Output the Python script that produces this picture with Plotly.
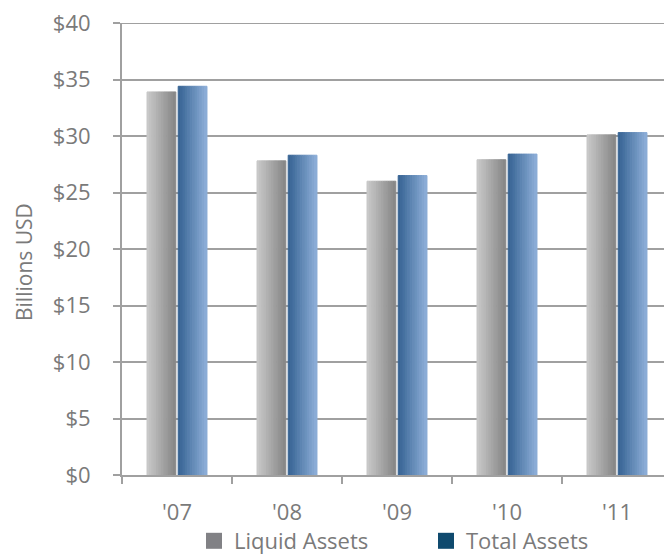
import plotly.graph_objects as go

years = ["'07", "'08", "'09", "'10", "'11"]
liquid_assets = [33.9, 27.8, 26.0, 27.9, 30.1]
total_assets = [34.4, 28.3, 26.5, 28.4, 30.3]
y_ticks = [0, 5, 10, 15, 20, 25, 30, 35, 40]

FONT = "Open Sans"
TXT = "#7a7a7a"
LINE = "#a0a0a0"
N = 12


def lerp(c1, c2, t):
    return "rgb(%d,%d,%d)" % tuple(round(a + (b - a) * t) for a, b in zip(c1, c2))


fig = go.Figure()

# horizontal gradient: each series drawn as N thin adjacent bars
gray_l, gray_r = (200, 200, 200), (136, 136, 136)
blue_l, blue_r = (56, 100, 148), (138, 172, 214)

for i in range(N):
    c = lerp(gray_l, gray_r, i / (N - 1))
    fig.add_trace(go.Bar(x=years, y=liquid_assets, marker_color=c,
                         marker_line=dict(width=1, color=c), showlegend=False, hoverinfo="skip"))
fig.add_trace(go.Bar(x=years, y=liquid_assets, marker_color="rgba(0,0,0,0)",
                     marker_line_width=0, showlegend=False, hoverinfo="skip"))
for i in range(N):
    c = lerp(blue_l, blue_r, i / (N - 1))
    fig.add_trace(go.Bar(x=years, y=total_assets, marker_color=c,
                         marker_line=dict(width=1, color=c), showlegend=False, hoverinfo="skip"))

# legend entries
fig.add_trace(go.Scatter(x=[None], y=[None], mode="markers", name="Liquid Assets",
                         marker=dict(symbol="square", size=18, color="#818185")))
fig.add_trace(go.Scatter(x=[None], y=[None], mode="markers", name="Total Assets",
                         marker=dict(symbol="square", size=18, color="#0f4a6e")))

fig.add_annotation(text="Billions USD", textangle=-90, xref="paper", yref="paper",
                   x=(24 - 122) / 550, y=(475 - 262) / 452, xanchor="center", yanchor="middle",
                   showarrow=False, font=dict(size=21, color=TXT, family=FONT))

# top gridline (plotly skips the grid line lying on the plot edge)
fig.add_shape(type="line", xref="paper", x0=0, x1=1, yref="y", y0=y_ticks[-1], y1=y_ticks[-1],
              line=dict(color=LINE, width=2), layer="below")

# page has an 8px body margin, so the figure is sized to fill the rest of the window
fig.update_layout(
    width=664, height=548,
    margin=dict(l=114, r=0, t=15, b=81, autoexpand=False),
    paper_bgcolor="white", plot_bgcolor="white",
    barmode="group", bargap=0.455, bargroupgap=0,
    font=dict(family=FONT, size=22, color=TXT),
    showlegend=True,
    legend=dict(orientation="h", x=0.5 + 29 / 550, xanchor="center", y=(475 - 541) / 452,
                yanchor="middle", font=dict(size=22, color=TXT), entrywidth=187,
                traceorder="normal"),
)
fig.update_xaxes(
    categoryorder="array", categoryarray=years, automargin=False,
    showline=True, linecolor=LINE, linewidth=2,
    ticks="outside", tickson="boundaries", ticklen=7, tickwidth=2, tickcolor=LINE,
    showgrid=False, ticklabelstandoff=17,
    tickfont=dict(size=22, color=TXT),
)
fig.update_yaxes(
    range=[0, 40], tickvals=y_ticks, ticktext=["$%d" % v for v in y_ticks],
    automargin=False, ticklabeloverflow="allow",
    showline=True, linecolor=LINE, linewidth=2,
    ticks="outside", ticklen=7, tickwidth=2, tickcolor=LINE,
    showgrid=True, gridcolor=LINE, gridwidth=2, zeroline=False,
    ticklabelstandoff=18,
    tickfont=dict(size=22, color=TXT),
)

fig.write_html("out.html")
